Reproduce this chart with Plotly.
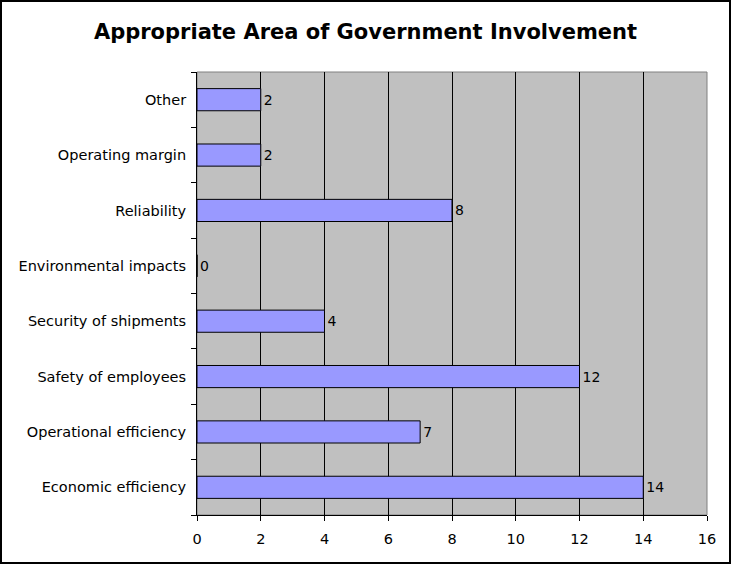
import plotly.graph_objects as go

# Survey responses per area (bottom to top as drawn)
areas = [
    "Economic efficiency",
    "Operational efficiency",
    "Safety of employees",
    "Security of shipments",
    "Environmental impacts",
    "Reliability",
    "Operating margin",
    "Other",
]
counts = [14, 7, 12, 4, 0, 8, 2, 2]
x_ticks = [0, 2, 4, 6, 8, 10, 12, 14, 16]

W, H = 731, 564
L, R, T, B = 197, 24, 72, 49
pw, ph = W - L - R, H - T - B

font_family = "Verdana, DejaVu Sans, sans-serif"

fig = go.Figure(
    go.Bar(
        x=counts,
        y=areas,
        orientation="h",
        width=0.4,
        marker=dict(color="#9999FF", line=dict(color="#000000", width=1)),
        text=[str(c) for c in counts],
        textposition="outside",
        cliponaxis=False,
        textfont=dict(family=font_family, size=14, color="#000000"),
    )
)

# Outer chart border, expressed in paper coordinates
def px_to_paper_x(px):
    return (px - L) / pw

def px_to_paper_y(py):
    return (H - B - py) / ph

fig.add_shape(
    type="rect",
    xref="paper", yref="paper",
    x0=px_to_paper_x(1), x1=px_to_paper_x(730),
    y0=px_to_paper_y(563), y1=px_to_paper_y(1),
    line=dict(color="#000000", width=2),
    fillcolor="rgba(0,0,0,0)",
    layer="above",
)

# Plot area frame
fig.add_shape(
    type="rect",
    xref="paper", yref="paper",
    x0=0, x1=1, y0=0, y1=1,
    line=dict(color="#808080", width=1),
    layer="below",
)

fig.update_layout(
    width=W,
    height=H,
    margin=dict(l=L, r=R, t=T, b=B),
    paper_bgcolor="#FFFFFF",
    plot_bgcolor="#C0C0C0",
    showlegend=False,
    bargap=0.6,
    title=dict(
        text="<b>Appropriate Area of Government Involvement</b>",
        x=0.5, xref="container", xanchor="center",
        y=1 - 32 / H, yref="container", yanchor="middle",
        font=dict(family=font_family, size=21, color="#000000"),
    ),
    font=dict(family=font_family, size=14, color="#000000"),
)

fig.update_xaxes(
    range=[0, 16],
    tickvals=x_ticks,
    ticktext=[str(v) for v in x_ticks],
    showgrid=True,
    gridcolor="#000000",
    gridwidth=1,
    zeroline=False,
    showline=True,
    linecolor="#000000",
    linewidth=1,
    ticks="outside",
    ticklen=5,
    tickcolor="#000000",
    tickfont=dict(family=font_family, size=14.5),
    ticklabelstandoff=6,
)

fig.update_yaxes(
    categoryorder="array",
    categoryarray=areas,
    showgrid=False,
    zeroline=False,
    showline=True,
    linecolor="#000000",
    linewidth=1,
    ticks="outside",
    tickson="boundaries",
    ticklen=5,
    tickcolor="#000000",
    tickfont=dict(family=font_family, size=14.5),
    ticklabelstandoff=7,
)

fig.write_html("out.html")
